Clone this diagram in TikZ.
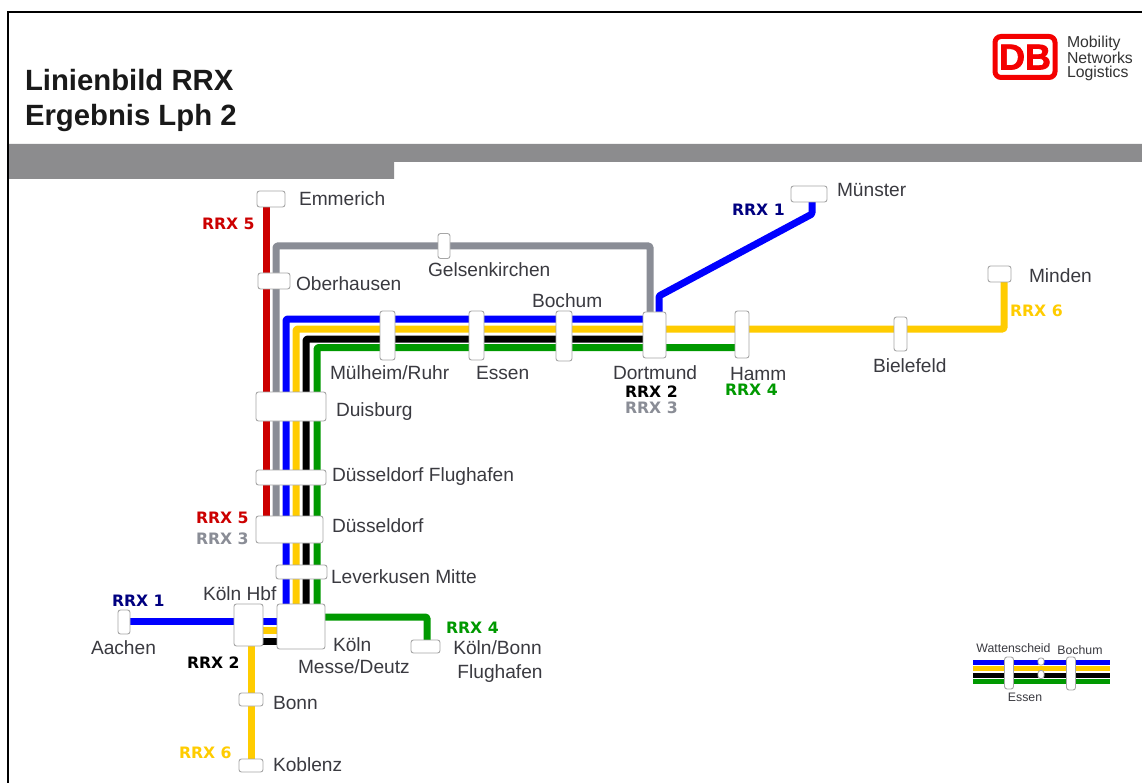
\documentclass[tikz,border=0pt]{standalone}
\usepackage{fontspec}
\setmainfont{Liberation Sans}
\newfontfamily\rrxfont{DejaVu Sans}
\newfontfamily\dbfont{Liberation Sans}[BoldFeatures={FakeBold=2}]
\definecolor{lred}{HTML}{CC0000}
\definecolor{lgray}{HTML}{8A8D96}
\definecolor{lblue}{HTML}{0000FF}
\definecolor{lyellow}{HTML}{FFCC00}
\definecolor{lgreen}{HTML}{009900}
\definecolor{lnavy}{HTML}{000080}
\definecolor{txt}{HTML}{3A3A40}
\definecolor{band}{HTML}{8C8C8E}
\definecolor{dbred}{HTML}{F40000}
\tikzset{
  every node/.style={inner sep=0pt,outer sep=0pt},
  stn/.style={draw=black!35,line width=0.9pt,fill=white,rounded corners=2.5pt},
  lbl/.style={text=txt,font=\fontsize{19.15}{19}\selectfont,anchor=west},
  lblc/.style={text=txt,font=\fontsize{19.15}{24}\selectfont,align=center},
  rrx/.style={font=\rrxfont\bfseries\fontsize{15.7}{16}\selectfont},
  ln/.style={line width=7pt,rounded corners=1.2pt,line join=round},
  thin/.style={line width=5pt},
  leg/.style={text=txt,font=\fontsize{12.3}{12}\selectfont},
  title/.style={text=black!90,font=\bfseries\fontsize{29.3}{35}\selectfont,align=left,anchor=west}
}
\newcommand{\stnbox}[6][]{\node[stn,minimum width=#5pt,minimum height=#6pt,#1] (#2) at (#3,#4) {};}
\begin{document}
\begin{tikzpicture}[x=1pt,y=-1pt]
\useasboundingbox (0,0) rectangle (1142,783);
\fill[white] (0,0) rectangle (1142,783);
% frame and header
\draw[black,line width=2pt] (8,783) -- (8,12) -- (1142,12);
\fill[band] (9,144) -- (1142,144) -- (1142,162) -- (394,162) -- (394,179) -- (9,179) -- cycle;
\node[title] (ttl) at (25,100) {Linienbild RRX\\Ergebnis Lph 2};
% logo
\node[draw=dbred,line width=5pt,rounded corners=6pt,minimum width=60pt,minimum height=41pt,text=dbred,font=\dbfont\bfseries\fontsize{36}{36}\selectfont] (logo) at (1025,57) {\raisebox{0pt}[0pt][0pt]{\raisebox{-12.5pt}{DB}}};
\node[text=black!80,font=\fontsize{15.8}{14.3}\selectfont,align=left,anchor=west] (logot) at (1067,58.5) {Mobility\\Networks\\Logistics};
% coordinates of line ends
\coordinate (redT) at (266,200);
\coordinate (redB) at (266,530);
\coordinate (grayB) at (276,530);
\coordinate (grayC1) at (276,246);
\coordinate (grayC2) at (650,246);
\coordinate (grayE) at (650,330);
\coordinate (bluS) at (286,630);
\coordinate (bluC) at (286,319);
\coordinate (bluE) at (650,319);
\coordinate (yelS) at (296,630);
\coordinate (yelC) at (296,329);
\coordinate (yelM) at (1004,329);
\coordinate (yelE) at (1004,275);
\coordinate (blkS) at (306,630);
\coordinate (blkC) at (306,339);
\coordinate (blkE) at (650,339);
\coordinate (grnS) at (317,630);
\coordinate (grnC) at (317,347.5);
\coordinate (grnE) at (740,347.5);
\coordinate (aaP) at (124,621);
\coordinate (mesB) at (300,621);
\coordinate (hbfY) at (248,630);
\coordinate (mesY) at (300,630);
\coordinate (hbfK) at (248,641);
\coordinate (mesK) at (300,641);
\coordinate (kbT) at (251,640);
\coordinate (kbB) at (251,765);
\coordinate (mesG) at (310,617);
\coordinate (fgC) at (427,617);
\coordinate (fgE) at (427,645);
\coordinate (msE) at (812,195);
\coordinate (msA) at (812,214);
\coordinate (msB) at (659,296);
\coordinate (msS) at (659,320);
% lines
\draw[ln,lred] (redT) -- (redB);
\draw[ln,lgray] (grayB) -- (grayC1) -- (grayC2) -- (grayE);
\draw[ln,lyellow] (yelS) -- (yelC) -- (yelM) -- (yelE);
\draw[ln,lblue] (bluS) -- (bluC) -- (bluE);
\draw[ln,black] (blkS) -- (blkC) -- (blkE);
\draw[ln,lgreen] (grnS) -- (grnC) -- (grnE);
\draw[ln,lblue] (aaP) -- (mesB);
\draw[ln,lyellow] (hbfY) -- (mesY);
\draw[ln,black] (hbfK) -- (mesK);
\draw[ln,lyellow] (kbT) -- (kbB);
\draw[ln,lgreen] (mesG) -- (fgC) -- (fgE);
\draw[ln,lblue] (msE) -- (msA) -- (msB) -- (msS);
% stations
\stnbox{emm}{271}{199}{28}{16}
\stnbox{obh}{274}{281}{32}{16}
\stnbox{gel}{444}{246}{12}{25}
\stnbox{mul}{387.5}{335.5}{15}{49}
\stnbox{ess}{476.5}{335.5}{15}{49}
\stnbox{boc}{564}{336}{16}{50}
\stnbox{dor}{654.5}{335}{23}{46}
\stnbox{ham}{742}{334.5}{14}{47}
\stnbox{bie}{900.5}{334}{13}{34}
\stnbox{min}{999.5}{274}{23}{16}
\stnbox{mun}{809}{194}{36}{16}
\stnbox{dui}{291}{406.5}{70}{29}
\stnbox{dfl}{291}{477.5}{70}{15}
\stnbox{dus}{289.5}{529.5}{67}{27}
\stnbox{lev}{301.5}{572}{51}{14}
\stnbox{hbf}{248.5}{625}{29}{42}
\stnbox{mes}{301}{626.5}{48}{45}
\stnbox{aac}{124}{622}{12}{24}
\stnbox{fgh}{425.5}{646.5}{29}{13}
\stnbox{bon}{251}{699.5}{24}{13}
\stnbox{kob}{251}{765.5}{24}{13}
% station labels
\node[lbl] (Lemm) at (299,198.5) {Emmerich};
\node[lbl] (Lobh) at (296,284) {Oberhausen};
\node[lbl] (Lgel) at (428,269.5) {Gelsenkirchen};
\node[lbl] (Lboc) at (532,301) {Bochum};
\node[lbl] (Lmul) at (330,373) {Mülheim/Ruhr};
\node[lbl] (Less) at (476,373) {Essen};
\node[lbl] (Ldor) at (613,373) {Dortmund};
\node[lbl] (Lham) at (730,374) {Hamm};
\node[lbl] (Lbie) at (873,366) {Bielefeld};
\node[lbl] (Lmin) at (1029,276) {Minden};
\node[lbl] (Lmun) at (837,190.5) {Münster};
\node[lbl] (Ldui) at (336,412) {Duisburg};
\node[lbl] (Ldfl) at (332,477) {Düsseldorf Flughafen};
\node[lbl] (Ldus) at (332,526) {Düsseldorf};
\node[lbl] (Llev) at (331,577) {Leverkusen Mitte};
\node[lbl] (Lhbf) at (203,594) {Köln Hbf};
\node[lbl] (Lmes1) at (333,645) {Köln};
\node[lbl] (Lmes2) at (298,667) {Messe/Deutz};
\node[lbl] (Laac) at (91,648) {Aachen};
\node[lblc] (Lfgh) at (497.5,662) {Köln/Bonn\\ \hspace*{5pt}Flughafen};
\node[lbl] (Lbon) at (273,703) {Bonn};
\node[lbl] (Lkob) at (273,764.5) {Koblenz};
% line labels
\node[rrx,text=lred,anchor=west] (r5a) at (202,224) {RRX 5};
\node[rrx,text=lnavy,anchor=west] (r1a) at (732,210) {RRX 1};
\node[rrx,text=lyellow,anchor=west] (r6a) at (1010,311) {RRX 6};
\node[rrx,text=black,anchor=west] (r2a) at (625,392) {RRX 2};
\node[rrx,text=lgray,anchor=west] (r3a) at (625,408) {RRX 3};
\node[rrx,text=lgreen,anchor=west] (r4a) at (725,390) {RRX 4};
\node[rrx,text=lred,anchor=west] (r5b) at (196,518) {RRX 5};
\node[rrx,text=lgray,anchor=west] (r3b) at (196,539) {RRX 3};
\node[rrx,text=lnavy,anchor=west] (r1b) at (112,601) {RRX 1};
\node[rrx,text=lgreen,anchor=west] (r4b) at (446,628) {RRX 4};
\node[rrx,text=black,anchor=west] (r2b) at (187,663) {RRX 2};
\node[rrx,text=lyellow,anchor=west] (r6b) at (179,753) {RRX 6};
% legend
\coordinate (lgA1) at (973,662); \coordinate (lgA2) at (1110,662);
\coordinate (lgB1) at (973,668.5); \coordinate (lgB2) at (1110,668.5);
\coordinate (lgC1) at (973,675); \coordinate (lgC2) at (1110,675);
\coordinate (lgD1) at (973,681); \coordinate (lgD2) at (1110,681);
\draw[thin,lblue] (lgA1) -- (lgA2);
\draw[thin,lyellow] (lgB1) -- (lgB2);
\draw[thin,black] (lgC1) -- (lgC2);
\draw[thin,lgreen] (lgD1) -- (lgD2);
\stnbox{lg1}{1009}{673}{9}{32}
\stnbox{lg2}{1041}{661.5}{6}{7}
\stnbox{lg3}{1041}{674.5}{6}{8}
\stnbox{lg4}{1071}{673.5}{9}{33}
\node[leg] (lgt1) at (1013.5,648) {Wattenscheid};
\node[leg] (lgt2) at (1080,650) {Bochum};
\node[leg] (lgt3) at (1025,697) {Essen};
\end{tikzpicture}
\end{document}
